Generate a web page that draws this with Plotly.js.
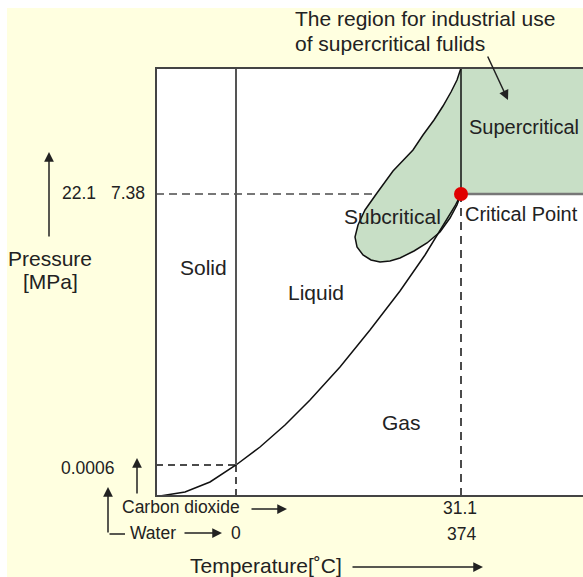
<!DOCTYPE html>
<html>
<head>
<meta charset="utf-8">
<script src="https://cdn.plot.ly/plotly-3.0.1.min.js"></script>
<style>html,body{margin:0;padding:0;background:#fff;}#chart{width:583px;height:577px;}</style>
</head>
<body>
<div id="chart"></div>
<script>
// Schematic phase diagram, coordinates in diagram units (frame spans 0..427 x 0..428)
const frameT = [0, 427];
const frameP = [0, 428];
const criticalPoint = {t: 305, p: 302};
const triplePoint = {t: 80, p: 31};

// gas–liquid (vapour pressure) curve
const vaporT = [4, 29, 54, 80, 104, 129, 154, 184, 214, 244, 269, 289, 299, 305];
const vaporP = [0, 4, 14, 31, 49, 71, 96, 129, 166, 205, 241, 273, 290, 302];

// boundary of the subcritical (industrial-use) region
const subT = [305, 301, 295, 287, 278, 267, 257, 247, 237, 221, 209, 202, 199, 201, 207, 215, 224, 234, 244, 258, 271, 284, 294, 301, 305];
const subP = [428, 416, 404, 390, 376, 361, 346, 335, 325, 303, 286, 271, 259, 249, 241, 236, 234, 235, 238, 245, 253, 264, 278, 291, 302];

// tick labels
const pressureLabels = ['22.1', '7.38', '0.0006'];
const tempLabels = {water: ['0', '374'], co2: ['31.1']};

const GREEN = '#c8dfc6';
const CREAM = '#ffffe0';
const FONT = 'Liberation Sans, Arial, Helvetica, sans-serif';
const TXT = '#222';

const traces = [];
function line(x, y, color, width, dash) {
  traces.push({x: x, y: y, mode: 'lines', type: 'scatter', hoverinfo: 'skip',
    line: {color: color, width: width, dash: dash || 'solid'}});
}
// supercritical region
traces.push({x: [criticalPoint.t, frameT[1], frameT[1], criticalPoint.t],
  y: [criticalPoint.p, criticalPoint.p, frameP[1], frameP[1]],
  mode: 'lines', fill: 'toself', fillcolor: GREEN, line: {width: 0}, hoverinfo: 'skip'});
// subcritical region
traces.push({x: subT, y: subP, mode: 'lines', fill: 'toself', fillcolor: GREEN,
  line: {color: '#111', width: 1.5}, hoverinfo: 'skip'});
// dashed reference lines
line([frameT[0], subT[9]], [criticalPoint.p, criticalPoint.p], '#777', 2, '8px,5px');
line([criticalPoint.t, criticalPoint.t], [frameP[0], criticalPoint.p], '#111', 1.5, '8px,6px');
line([frameT[0], triplePoint.t], [triplePoint.p, triplePoint.p], '#111', 1.5, '7px,5px');
line([triplePoint.t, triplePoint.t], [frameP[0], triplePoint.p], '#111', 1.5, '7px,5px');
// vapour curve
line(vaporT, vaporP, '#111', 1.5);
// critical isotherm / isobar
line([criticalPoint.t, criticalPoint.t], [criticalPoint.p, frameP[1]], '#111', 1.5);
line([criticalPoint.t, frameT[1]], [criticalPoint.p, criticalPoint.p], '#777', 2.5);
// melting line
line([triplePoint.t, triplePoint.t], [triplePoint.p, frameP[1]], '#555', 2);
// frame
line([frameT[1], frameT[0], frameT[0], frameT[1]], [frameP[1], frameP[1], frameP[0], frameP[0]], '#444', 2);
// critical point
traces.push({x: [criticalPoint.t], y: [criticalPoint.p], mode: 'markers', hoverinfo: 'skip',
  marker: {size: 14, color: '#e00000'}});

function txt(x, y, text, size, xanchor) {
  return {x: x, y: y, xref: 'x', yref: 'y', text: text, showarrow: false,
    xanchor: xanchor || 'center', yanchor: 'middle', font: {family: FONT, size: size, color: TXT}};
}
function arrow(x0, y0, x1, y1, head) {
  return {x: x1, y: y1, ax: x0, ay: y0, xref: 'x', yref: 'y', axref: 'x', ayref: 'y',
    text: '', showarrow: true, arrowhead: head === undefined ? 2 : head, arrowsize: 1.3,
    arrowwidth: 1.5, arrowcolor: '#222', standoff: 0, startstandoff: 0};
}

const annotations = [
  txt(137, 478, 'The region for industrial use', 21, 'left'),
  txt(137, 453, 'of supercritical fulids', 21, 'left'),
  arrow(331, 441, 352, 396),
  txt(368, 369, 'Supercritical', 20),
  txt(307, 282, 'Critical Point', 20, 'left'),
  txt(236, 280, 'Subcritical', 21),
  txt(47, 229, 'Solid', 21),
  txt(160, 204, 'Liquid', 21),
  txt(245, 74, 'Gas', 21),
  txt(-106, 238, 'Pressure', 21),
  txt(-106, 215, '[MPa]', 21),
  arrow(-107, 258, -107, 344),
  txt(-77, 303, pressureLabels[0], 17.5),
  txt(-28, 303, pressureLabels[1], 17.5),
  txt(-68, 28, pressureLabels[2], 17.5),
  arrow(-19, 1, -19, 38),
  txt(25, -11, 'Carbon dioxide', 17.5),
  arrow(94, -13, 131, -13),
  txt(-3, -37, 'Water', 17.5),
  arrow(27, -37, 66, -37),
  txt(80, -37, tempLabels.water[0], 17.5),
  txt(304, -12, tempLabels.co2[0], 17.5),
  txt(305, -38, tempLabels.water[1], 17.5),
  arrow(-48, -38, -48, 9),
  arrow(-48, -38, -31, -38, 0),
  txt(32, -69, 'Temperature[˚C]', 21, 'left'),
  arrow(195, -71, 327, -71)
];

const layout = {
  width: 583, height: 577,
  margin: {l: 0, r: 0, t: 0, b: 0},
  paper_bgcolor: '#fff', plot_bgcolor: 'rgba(0,0,0,0)',
  showlegend: false, hovermode: false,
  xaxis: {range: [-156, 427], visible: false, fixedrange: true},
  yaxis: {range: [-81, 496], visible: false, fixedrange: true},
  shapes: [
    {type: 'rect', xref: 'x', yref: 'y', x0: -149, x1: 427, y0: -81, y1: 488,
      fillcolor: CREAM, line: {width: 0}, layer: 'below'},
    {type: 'rect', xref: 'x', yref: 'y', x0: 0, x1: 427, y0: 0, y1: 428,
      fillcolor: '#fff', line: {width: 0}, layer: 'below'}
  ],
  annotations: annotations
};

Plotly.newPlot('chart', traces, layout, {staticPlot: true, displayModeBar: false});
</script>
</body>
</html>
